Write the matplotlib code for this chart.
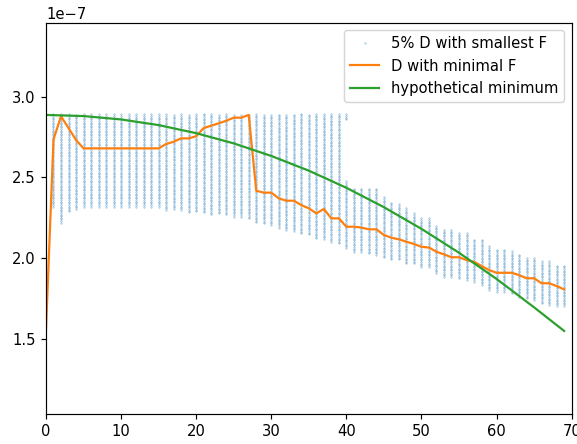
import matplotlib
matplotlib.use("Agg")
import matplotlib.pyplot as plt
import numpy as np

# D grid step used for the scatter columns
d_step = 0.01e-7

# columns of the 5% best D values (x = 1..69), top and bottom of each column
col_x = np.arange(1, 70)
col_top = np.array([2.89] * 39 +
                   [2.474, 2.433, 2.433, 2.427, 2.427, 2.371, 2.340, 2.335, 2.303, 2.278,
                    2.247, 2.247, 2.195, 2.179, 2.179, 2.154, 2.154, 2.117, 2.117, 2.071,
                    2.055, 2.055, 2.040, 2.020, 2.006, 2.006, 1.978, 1.978, 1.958, 1.958]) * 1e-7
col_bot = np.array([2.32, 2.22, 2.29, 2.305] + [2.32] * 11 +
                   [2.30, 2.305, 2.30, 2.285, 2.29, 2.284, 2.272, 2.277, 2.272, 2.257,
                    2.257, 2.247, 2.222, 2.216, 2.206, 2.189, 2.175, 2.168, 2.154, 2.148,
                    2.123, 2.12, 2.102, 2.092, 2.065, 2.040, 2.040, 2.030, 2.020, 2.006,
                    1.993, 1.993, 1.968, 1.968, 1.947, 1.947, 1.910, 1.885, 1.885, 1.876,
                    1.865, 1.855, 1.834, 1.803, 1.793, 1.793, 1.783, 1.762, 1.752, 1.741,
                    1.721, 1.710, 1.704, 1.704]) * 1e-7
# extra piece at the top of column 40
extra_x = 40
extra_top = 2.89e-7
extra_bot = 2.86e-7

# D with minimal F, x = 0..69
min_x = np.arange(0, 70)
min_D = np.array([1.556, 2.735, 2.878, 2.806, 2.732] + [2.680] * 11 +
                 [2.707, 2.721, 2.742, 2.742, 2.755, 2.806, 2.820, 2.835, 2.851, 2.870,
                  2.870, 2.887, 2.418, 2.406, 2.406, 2.371, 2.356, 2.356, 2.329, 2.309,
                  2.278, 2.305, 2.247, 2.247, 2.195, 2.195, 2.190, 2.179, 2.179, 2.144,
                  2.127, 2.117, 2.102, 2.088, 2.071, 2.066, 2.040, 2.024, 2.006, 2.006,
                  1.989, 1.978, 1.952, 1.927, 1.910, 1.910, 1.910, 1.896, 1.876, 1.876,
                  1.845, 1.845, 1.828, 1.807]) * 1e-7

# hypothetical minimum
hyp_x = [0, 5, 10, 15, 20, 25, 30, 35, 40, 45, 50, 55, 60, 65, 69]
hyp_D = np.array([2.887, 2.880, 2.859, 2.824, 2.774, 2.711, 2.633, 2.542, 2.436,
                  2.316, 2.182, 2.034, 1.872, 1.696, 1.550]) * 1e-7

# build scatter points from the column ranges
px = []
py = []
for x, top, bot in zip(col_x, col_top, col_bot):
    ys = np.arange(bot, top + d_step / 2, d_step)
    px.extend([x] * len(ys))
    py.extend(ys)
ys = np.arange(extra_bot, extra_top + d_step / 2, d_step)
px.extend([extra_x] * len(ys))
py.extend(ys)

dpi = 106
fig = plt.figure(figsize=(577 / dpi, 444 / dpi), dpi=dpi)
ax = fig.add_axes([0.0797, 0.0676, 0.911, 0.8806])

ax.plot(px, py, "x", color="C0", markersize=1.1, alpha=0.25, label="5% D with smallest F")
ax.plot(min_x, min_D, color="C1", label="D with minimal F")
ax.plot(hyp_x, hyp_D, color="C2", label="hypothetical minimum")

ax.set_xlim(0, 70)
ax.set_ylim(1.036e-7, 3.456e-7)
ax.legend(loc="upper right")

fig.savefig("out.png", dpi=dpi)
